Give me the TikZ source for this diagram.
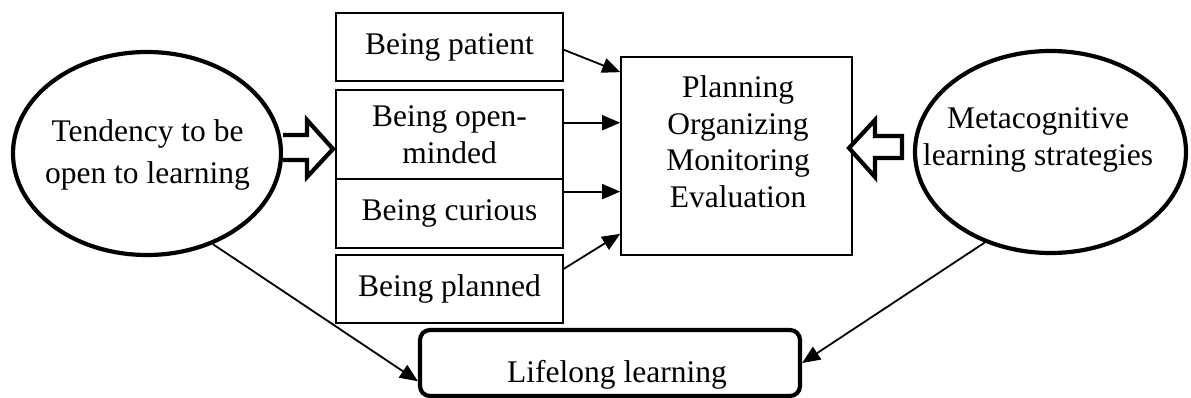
\documentclass[tikz,border=0pt]{standalone}
\usepackage{fontspec}
\setmainfont{Liberation Serif}
\usetikzlibrary{shapes.geometric,arrows.meta,calc}
\begin{document}
\begin{tikzpicture}[x=1pt,y=-1pt,
  every node/.style={font=\fontsize{31.5}{36.5}\selectfont, inner sep=0pt},
  thinbox/.style={draw, line width=1.6pt, minimum width=227pt, align=center},
  bigell/.style={draw, ellipse, line width=4.2pt},
  conn/.style={line width=1.8pt, -{Triangle[length=18pt,width=15pt]}},
  hollow/.style={draw, line width=4.2pt, fill=white, line join=miter},
  txt/.style={align=center}
]
\useasboundingbox (0,0) rectangle (1191,398);

% left ellipse
\node[bigell, minimum width=268pt, minimum height=203pt] (tend) at (147,153.5) {};
\node[txt, font=\fontsize{31.5}{42}\selectfont] (tendtxt) at (147.5,155) {Tendency to be\\open to learning};

% right ellipse
\node[bigell, minimum width=271pt, minimum height=202pt] (meta) at (1050.5,152) {};
\node[txt, font=\fontsize{31.5}{37}\selectfont] (metatxt) at (1038,139.5) {Metacognitive\\learning strategies};

% middle boxes
\node[thinbox, minimum height=68pt] (patient) at (449.5,47) {Being patient};
\node[thinbox, minimum height=89pt] (open) at (449.5,134.5) {Being open-\\minded};
\node[thinbox, minimum height=69pt] (curious) at (449.5,213.5) {Being curious};
\node[thinbox, minimum height=68pt] (planned) at (449.5,289) {Being planned};

% planning box
\node[draw, line width=1.6pt, minimum width=231pt, minimum height=198pt] (plan) at (736.5,156) {};
\node[txt] (plantxt) at (738,141.5) {Planning\\Organizing\\Monitoring\\Evaluation};

% lifelong box
\node[draw, line width=4.2pt, rounded corners=10pt, minimum width=380pt, minimum height=66pt] (life) at (610,363) {};
\node (lifetxt) at (617,374.5) {Lifelong learning};

% hollow arrows
\path[hollow] (283,135) -- (307,135) -- (307,120) -- (333,149) -- (307,177) -- (307,160) -- (283,160);
\path[hollow] (902,136) -- (875,136) -- (875,120) -- (849,148) -- (875,177) -- (875,158) -- (902,158) -- cycle;

% connectors into planning box
\coordinate (p1) at ($(patient.north east)!0.54!(patient.south east)$);
\coordinate (q1) at ($(plan.north west)!0.08!(plan.south west)$);
\draw[conn] (p1) -- (q1);
\coordinate (o1) at ($(open.north east)!0.37!(open.south east)$);
\draw[conn] (o1) -- (plan.west |- o1);
\coordinate (c1) at ($(curious.north east)!0.19!(curious.south east)$);
\draw[conn] (c1) -- (plan.west |- c1);
\coordinate (b1) at ($(planned.north east)!0.21!(planned.south east)$);
\coordinate (q4) at ($(plan.north west)!0.89!(plan.south west)$);
\draw[conn] (b1) -- (q4);

% connectors to lifelong
\coordinate (l1) at ($(life.north west)!0.76!(life.south west)$);
\draw[conn] (tend.-54) -- (l1);
\draw[conn] (meta.234) -- (life.east);
\end{tikzpicture}
\end{document}
